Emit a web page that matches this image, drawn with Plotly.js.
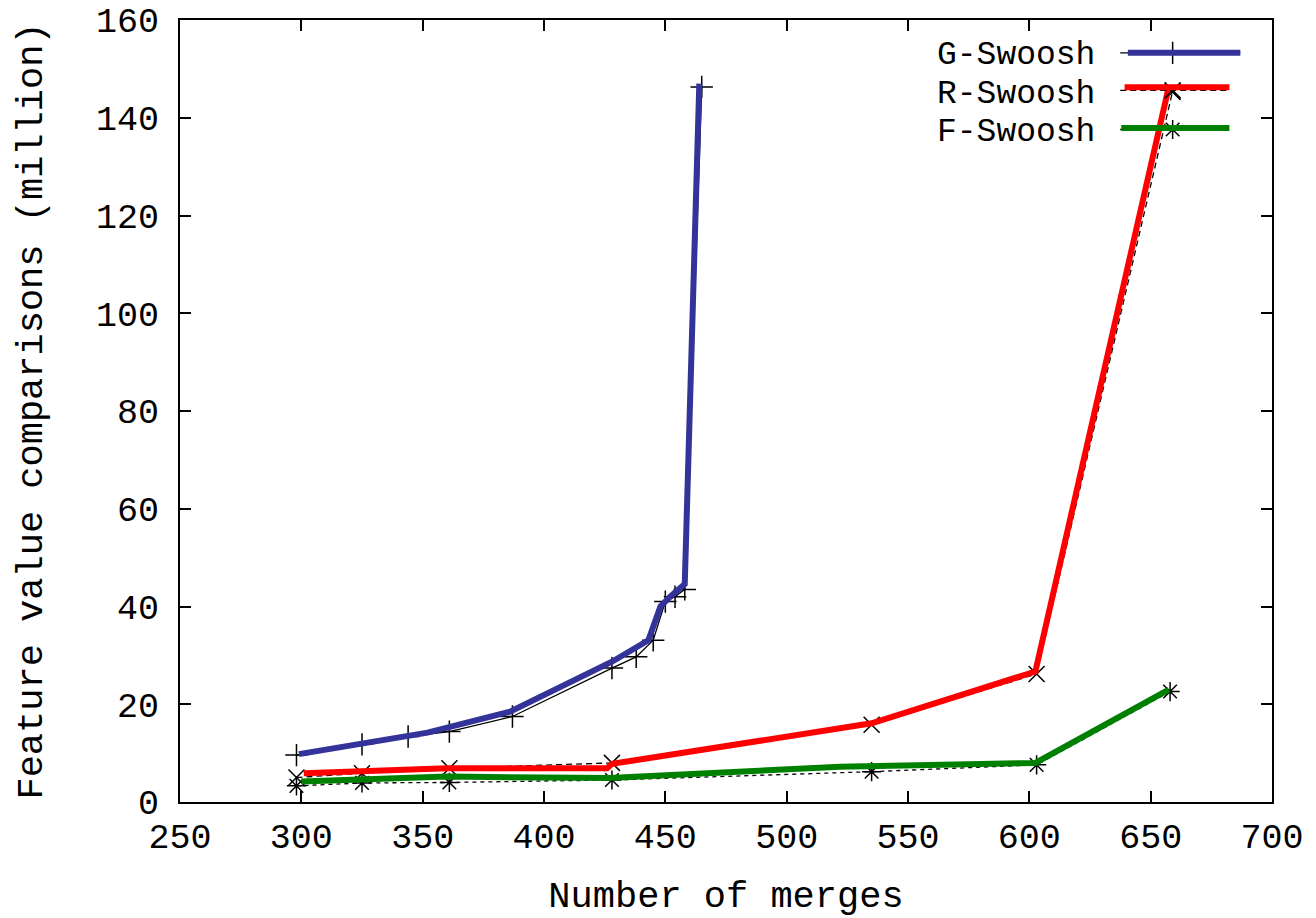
<!DOCTYPE html>
<html>
<head>
<meta charset="utf-8">
<script src="https://cdn.plot.ly/plotly-3.0.1.min.js"></script>
<style>html,body{margin:0;padding:0;background:#fff;}#chart{width:1316px;height:918px;}</style>
</head>
<body>
<div id="chart"></div>
<script>
// ---- data ----
var seriesNames = ["G-Swoosh", "R-Swoosh", "F-Swoosh"];

// measured points (black markers)
var gX = [298, 325, 344, 361, 387, 428, 438, 445, 450, 454, 458, 465];
var gY = [9.6, 11.8, 13.4, 14.4, 17.5, 27.4, 29.7, 33.1, 41.0, 42.0, 43.5, 146.3];
var rX = [298, 325, 361, 428, 535, 603, 659];
var rY = [5.0, 5.9, 6.9, 8.0, 15.8, 26.2, 145.3];
var fX = [298, 325, 361, 428, 535, 603, 658];
var fY = [3.3, 3.9, 4.0, 4.5, 6.2, 7.6, 22.6];

// thick coloured overlay lines (slightly offset from the measured points)
var gLineX = [299, 352, 386, 428, 443, 448, 452, 458, 464];
var gLineY = [9.8, 14.2, 18.5, 28.7, 33.1, 40.0, 42.0, 44.6, 147];
var rLineX = [301, 360, 426, 428, 535, 602.5, 657.5];
var rLineY = [5.9, 6.9, 6.9, 7.8, 16.1, 26.7, 146.4];
var fLineX = [300, 360, 427, 522, 602.5, 657.5];
var fLineY = [4.2, 5.2, 4.9, 7.2, 8.0, 23.0];

var xTicks = [250, 300, 350, 400, 450, 500, 550, 600, 650, 700];
var yTicks = [0, 20, 40, 60, 80, 100, 120, 140, 160];

// ---- styles ----
var colors = ["#333399", "#ff0000", "#008000"];
var blackDash = ["solid", "6px,4px", "4px,4px"];
var symbols = ["cross-thin", "x-thin", "asterisk"];
var FONT = "Liberation Mono, DejaVu Sans Mono, monospace";

var pts = [[gX, gY], [rX, rY], [fX, fY]];
var lines = [[gLineX, gLineY], [rLineX, rLineY], [fLineX, fLineY]];

var traces = [];
// black thin lines with markers first
for (var i = 0; i < 3; i++) {
  traces.push({
    x: pts[i][0], y: pts[i][1], type: "scatter", mode: "lines+markers",
    line: {color: "#000", width: 1.3, dash: blackDash[i]},
    marker: {symbol: symbols[i], size: 16, color: "#000", line: {color: "#000", width: 1.5}},
    showlegend: false, hoverinfo: "skip"
  });
}
// thick coloured lines on top
for (var i = 0; i < 3; i++) {
  traces.push({
    x: lines[i][0], y: lines[i][1], type: "scatter", mode: "lines",
    line: {color: colors[i], width: 6},
    showlegend: false, name: seriesNames[i]
  });
}

// custom legend (text left of sample, gnuplot style) on hidden overlay axes
var legRowY = [0.958, 0.910, 0.860];
var legTextY = [0.954, 0.905, 0.8555];
var legBlackX = [[0.861, 0.971], [0.861, 0.961], [0.861, 0.961]];
var legColX = [[0.868, 0.971], [0.865, 0.961], [0.862, 0.961]];
var legColYoff = [0, 0.004, 0.002];
var legMarkX = 0.909;
var annotations = [];
for (var i = 0; i < 3; i++) {
  traces.push({
    x: legBlackX[i], y: [legRowY[i], legRowY[i]], xaxis: "x2", yaxis: "y2",
    type: "scatter", mode: "lines", line: {color: "#000", width: 1.3, dash: blackDash[i]},
    showlegend: false, hoverinfo: "skip"
  });
  traces.push({
    x: [legMarkX], y: [legRowY[i]], xaxis: "x2", yaxis: "y2",
    type: "scatter", mode: "markers",
    marker: {symbol: symbols[i], size: 16, color: "#000", line: {color: "#000", width: 1.5}},
    showlegend: false, hoverinfo: "skip"
  });
  traces.push({
    x: legColX[i], y: [legRowY[i] + legColYoff[i], legRowY[i] + legColYoff[i]], xaxis: "x2", yaxis: "y2",
    type: "scatter", mode: "lines", line: {color: colors[i], width: 6},
    showlegend: false, hoverinfo: "skip"
  });
  annotations.push({
    xref: "paper", yref: "paper", x: 0.8397, y: legTextY[i],
    xanchor: "right", yanchor: "middle", showarrow: false,
    text: seriesNames[i], font: {family: FONT, size: 33, color: "#000"}
  });
}

var axisCommon = {
  showgrid: false, zeroline: false, showline: true, linecolor: "#000", linewidth: 2,
  mirror: "allticks", ticks: "inside", ticklen: 11, tickwidth: 2, tickcolor: "#000",
  tickfont: {family: FONT, size: 35, color: "#000"}, automargin: false
};

var layout = {
  width: 1316, height: 918,
  paper_bgcolor: "#fff", plot_bgcolor: "#fff",
  margin: {l: 180, r: 44, t: 20, b: 116},
  showlegend: false,
  font: {family: FONT, color: "#000"},
  xaxis: Object.assign({}, axisCommon, {
    range: [250, 700], tickvals: xTicks, ticktext: xTicks.map(String),
    ticklabelstandoff: 2,
    title: {text: "Number of merges", font: {family: FONT, size: 37, color: "#000"}, standoff: 26}
  }),
  yaxis: Object.assign({}, axisCommon, {
    range: [0, 160], tickvals: yTicks, ticktext: yTicks.map(String),
    ticklabelstandoff: 12,
    title: {text: "Feature value comparisons (million)", font: {family: FONT, size: 37, color: "#000"}, standoff: 42}
  }),
  xaxis2: {overlaying: "x", range: [0, 1], visible: false, fixedrange: true},
  yaxis2: {overlaying: "y", range: [0, 1], visible: false, fixedrange: true, anchor: "x2"},
  annotations: annotations
};

Plotly.newPlot("chart", traces, layout, {displayModeBar: false, staticPlot: true});
</script>
</body>
</html>
